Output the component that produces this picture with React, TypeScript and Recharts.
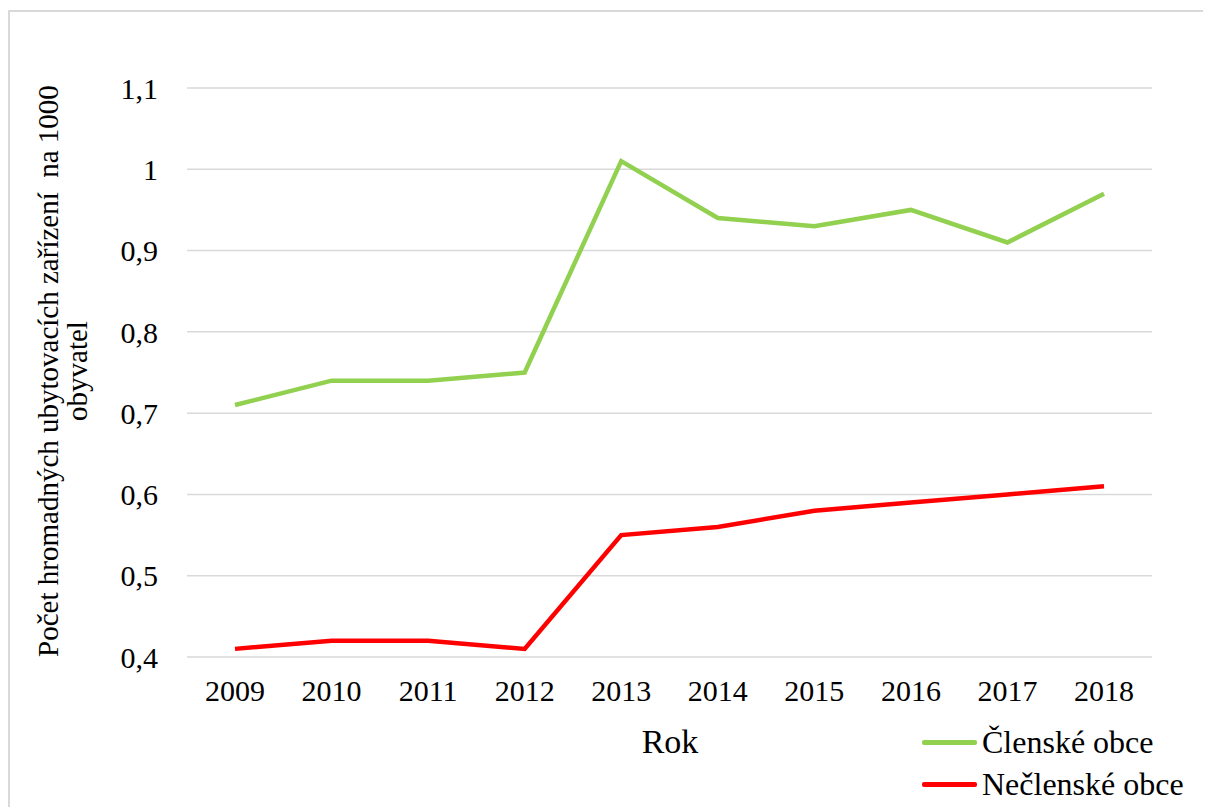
import React from 'react';
import { LineChart, Line, XAxis, YAxis, CartesianGrid, Legend } from 'recharts';

const years = ['2009', '2010', '2011', '2012', '2013', '2014', '2015', '2016', '2017', '2018'];
const clenske = [0.71, 0.74, 0.74, 0.75, 1.01, 0.94, 0.93, 0.95, 0.91, 0.97];
const neclenske = [0.41, 0.42, 0.42, 0.41, 0.55, 0.56, 0.58, 0.59, 0.6, 0.61];
const yTicks = [0.4, 0.5, 0.6, 0.7, 0.8, 0.9, 1, 1.1];

const seriesNames = ['Členské obce', 'Nečlenské obce'];
const seriesColors = ['#92d050', '#ff0000'];

const data = years.map((y, i) => ({ year: y, clenske: clenske[i], neclenske: neclenske[i] }));

const FONT = '"Liberation Serif", "Times New Roman", serif';

const fmt = (v: number) => String(v).replace('.', ',');

const YLabel = () => (
  <g>
    <text
      x={38}
      y={359}
      transform="rotate(-90, 38, 359)"
      textAnchor="middle"
      dominantBaseline="central"
      fontFamily={FONT}
      fontSize={29}
      fill="#000"
      style={{ whiteSpace: 'pre' }}
    >
      {'Počet hromadných ubytovacích zařízení  na 1000'}
    </text>
    <text
      x={67}
      y={359}
      transform="rotate(-90, 67, 359)"
      textAnchor="middle"
      dominantBaseline="central"
      fontFamily={FONT}
      fontSize={29}
      fill="#000"
    >
      obyvatel
    </text>
  </g>
);

const XLabel = () => (
  <text x={660} y={729} textAnchor="middle" dominantBaseline="central" fontFamily={FONT} fontSize={34} fill="#000">
    Rok
  </text>
);

const LegendContent = () => (
  <div style={{ fontFamily: FONT, fontSize: 32, color: '#000', lineHeight: 1 }}>
    {seriesNames.map((n, i) => (
      <div key={n} style={{ display: 'flex', alignItems: 'center', height: 42 }}>
        <div style={{ width: 55, height: 5, borderRadius: 2, background: seriesColors[i], marginRight: 5 }} />
        <span style={{ whiteSpace: 'nowrap' }}>{n}</span>
      </div>
    ))}
  </div>
);

export default function App() {
  return (
    <div
      style={{
        marginTop: 2,
        width: 1200,
        height: 800,
        border: '2px solid #d9d9d9',
        boxSizing: 'border-box',
        background: '#fff',
      }}
    >
      <LineChart width={1196} height={796} data={data} margin={{ top: 76, right: 54, left: 0, bottom: 0 }}>
        <CartesianGrid vertical={false} stroke="#d9d9d9" strokeWidth={1.5} />
        <XAxis
          dataKey="year"
          height={151}
          axisLine={false}
          tickLine={false}
          tickSize={0}
          tickMargin={23}
          padding={{ left: 48, right: 48 }}
          tick={{ fontFamily: FONT, fontSize: 30, fill: '#000' }}
          interval={0}
          label={{ content: XLabel }}
        />
        <YAxis
          width={177}
          domain={[0.4, 1.1]}
          ticks={yTicks}
          tickFormatter={fmt}
          axisLine={false}
          tickLine={false}
          tickSize={0}
          tickMargin={29}
          tick={{ fontFamily: FONT, fontSize: 30, fill: '#000' }}
          label={{ content: YLabel }}
        />
        <Legend
          layout="vertical"
          align="center"
          verticalAlign="middle"
          content={LegendContent}
          wrapperStyle={{ position: 'absolute', left: 912, top: 709, width: 290 }}
        />
        <Line
          dataKey="clenske"
          name={seriesNames[0]}
          stroke={seriesColors[0]}
          strokeWidth={4.5}
          dot={false}
          activeDot={false}
          type="linear"
          isAnimationActive={false}
        />
        <Line
          dataKey="neclenske"
          name={seriesNames[1]}
          stroke={seriesColors[1]}
          strokeWidth={4.5}
          dot={false}
          activeDot={false}
          type="linear"
          isAnimationActive={false}
        />
      </LineChart>
    </div>
  );
}
